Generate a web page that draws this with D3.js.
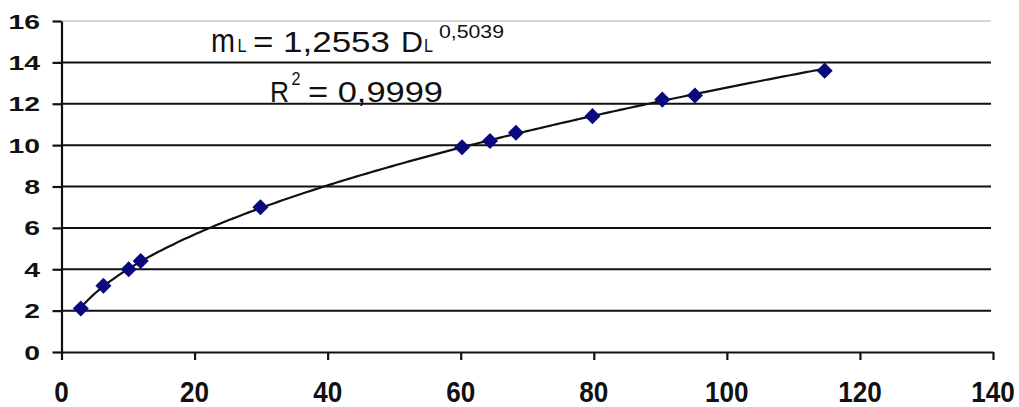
<!DOCTYPE html>
<html><head><meta charset="utf-8">
<script src="https://cdn.jsdelivr.net/npm/d3@7"></script>
<style>
html,body{margin:0;padding:0;background:#fff;}
svg{display:block;}
text{font-family:"Liberation Sans",Arial,sans-serif;fill:#111;}
</style></head>
<body><svg id="c" width="1019" height="407"></svg>
<script>
// data
const diameters = [2.9, 6.3, 10.1, 11.9, 29.9, 60.2, 64.4, 68.3, 79.8, 90.3, 95.2, 114.7];
const masses    = [2.1, 3.2, 4.0, 4.4, 7.0, 9.9, 10.2, 10.6, 11.4, 12.2, 12.4, 13.6];
const xTicks = [0, 20, 40, 60, 80, 100, 120, 140];
const yTicks = [0, 2, 4, 6, 8, 10, 12, 14, 16];
const fitCoef = 1.2553, fitExp = 0.5039;
const eqCoefText = "= 1,2553", eqExpText = "0,5039", r2Text = "= 0,9999";

const svg = d3.select("#c");
const x = d3.scaleLinear().domain([0, 140]).range([61.5, 993]);
const y = d3.scaleLinear().domain([0, 16]).range([352, 21]);

// gridlines
svg.append("g").selectAll("line").data(yTicks.filter(d => d > 0)).join("line")
  .attr("x1", x(0)).attr("x2", x(140) - 2)
  .attr("y1", d => y(d)).attr("y2", d => y(d))
  .attr("stroke", d => d === 16 ? "#c8c8c8" : "#111")
  .attr("stroke-width", d => d === 16 ? 1.5 : 2);

// axes
const ax = svg.append("g").attr("transform", `translate(0,${y(0)})`)
  .call(d3.axisBottom(x).tickValues(xTicks).tickSize(8).tickSizeOuter(0).tickFormat(""));
const ay = svg.append("g").attr("transform", `translate(${x(0)},0)`)
  .call(d3.axisLeft(y).tickValues(yTicks).tickSize(9).tickSizeOuter(0).tickFormat(""));
[ax, ay].forEach(g => {
  g.select(".domain").attr("stroke", "#111").attr("stroke-width", 2.2);
  g.selectAll(".tick line").attr("stroke", "#111").attr("stroke-width", 2.2);
});

// tick labels
svg.append("g").selectAll("text").data(xTicks).join("text")
  .attr("transform", d => `translate(${x(d)},402) scale(0.9,1)`)
  .attr("text-anchor", "middle").attr("font-size", 29).attr("font-weight", "bold")
  .text(d => d);
svg.append("g").selectAll("text").data(yTicks).join("text")
  .attr("transform", d => `translate(40,${y(d) + 7.5}) scale(1.35,1)`)
  .attr("text-anchor", "end").attr("font-size", 21).attr("font-weight", "bold")
  .text(d => d);

// fit curve
const xs = d3.range(0, 201).map(i => diameters[0] + (d3.max(diameters) - diameters[0]) * i / 200);
svg.append("path").datum(xs)
  .attr("fill", "none").attr("stroke", "#111").attr("stroke-width", 2.2)
  .attr("d", d3.line().x(d => x(d)).y(d => y(fitCoef * Math.pow(d, fitExp))).curve(d3.curveLinear));

// markers
svg.append("g").selectAll("path").data(diameters.map((d, i) => [d, masses[i]])).join("path")
  .attr("transform", d => `translate(${x(d[0])},${y(d[1])})`)
  .attr("d", d3.symbol().type(d3.symbolDiamond2).size(165))
  .attr("fill", "#0a0a7e");

// equation
const eq = svg.append("g");
function t(str, xx, yy, fs, len) {
  eq.append("text").attr("x", xx).attr("y", yy).attr("font-size", fs)
    .attr("textLength", len).attr("lengthAdjust", "spacingAndGlyphs").text(str);
}
t("m", 211, 51.5, 34, 24);
t("L", 237.5, 51.5, 18, 9);
t(eqCoefText, 253, 51.5, 30, 137);
t("D", 401, 51.5, 30, 22);
t("L", 424, 51.5, 18, 9);
t(eqExpText, 439, 38, 18, 65);
t("R", 270, 101.5, 30, 19);
t("2", 291.5, 85, 18, 9);
t(r2Text, 308, 101.5, 30, 135);
</script></body></html>
